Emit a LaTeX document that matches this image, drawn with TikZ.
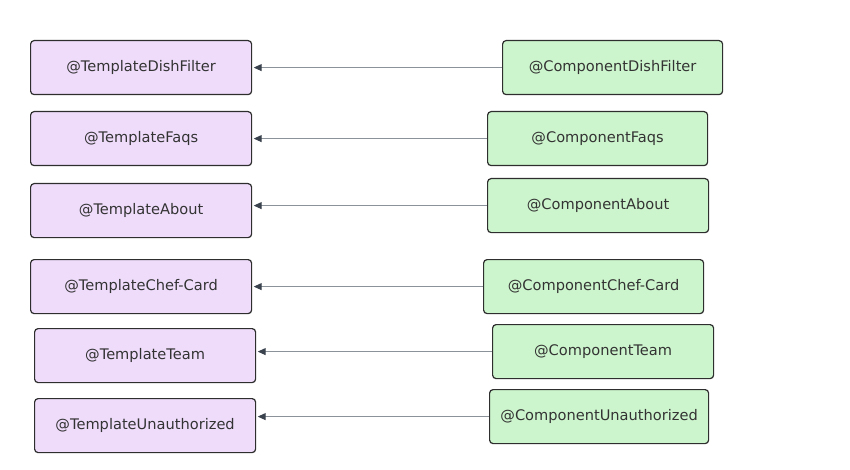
\documentclass[tikz,border=0pt]{standalone}
\usepackage{fontspec}
\setmainfont{DejaVu Sans}
\usetikzlibrary{arrows.meta}
\definecolor{tplfill}{HTML}{EFDCFB}
\definecolor{cmpfill}{HTML}{CDF5CD}
\definecolor{boxline}{HTML}{2E2E2E}
\definecolor{txt}{HTML}{333333}
\definecolor{linkline}{HTML}{8C929A}
\definecolor{linkhead}{HTML}{3A424D}
\tikzset{
  x=1pt, y=-1pt,
  basebox/.style={draw=boxline, line width=1.2pt, rounded corners=3.5pt, anchor=north west,
    inner sep=0pt, text=txt, font=\fontsize{14.6}{16}\selectfont},
  tplbox/.style={basebox, fill=tplfill},
  cmpbox/.style={basebox, fill=cmpfill},
  link/.style={draw=linkline, line width=1pt,
    -{Triangle[length=8pt,width=7pt,color=linkhead]}, shorten >=1.5pt}
}
\newcommand{\bx}[7]{% name, style, x, y, w, h, text
  \node[#2, minimum width=#5pt, minimum height=#6pt] (#1) at (#3,#4) {#7};}
\begin{document}
\begin{tikzpicture}
\useasboundingbox (0,0) rectangle (850,470);
% left (template) boxes
\bx{t1}{tplbox}{30}{40}{221}{54}{@TemplateDishFilter}
\bx{t2}{tplbox}{30}{111}{221}{54}{@TemplateFaqs}
\bx{t3}{tplbox}{30}{183}{221}{54}{@TemplateAbout}
\bx{t4}{tplbox}{30}{259}{221}{54}{@TemplateChef-Card}
\bx{t5}{tplbox}{34}{328}{221}{54}{@TemplateTeam}
\bx{t6}{tplbox}{34}{398}{221}{54}{@TemplateUnauthorized}
% right (component) boxes
\bx{c1}{cmpbox}{502}{40}{220}{54}{@ComponentDishFilter}
\bx{c2}{cmpbox}{487}{111}{220}{54}{@ComponentFaqs}
\bx{c3}{cmpbox}{487}{178}{221}{54}{@ComponentAbout}
\bx{c4}{cmpbox}{483}{259}{220}{54}{@ComponentChef-Card}
\bx{c5}{cmpbox}{492}{324}{221}{54}{@ComponentTeam}
\bx{c6}{cmpbox}{489}{389}{219}{54}{@ComponentUnauthorized}
% connectors
\foreach \i in {1,...,6}{
  \draw[link] (c\i.west) -- (c\i.west -| t\i.east);
}
\end{tikzpicture}
\end{document}
